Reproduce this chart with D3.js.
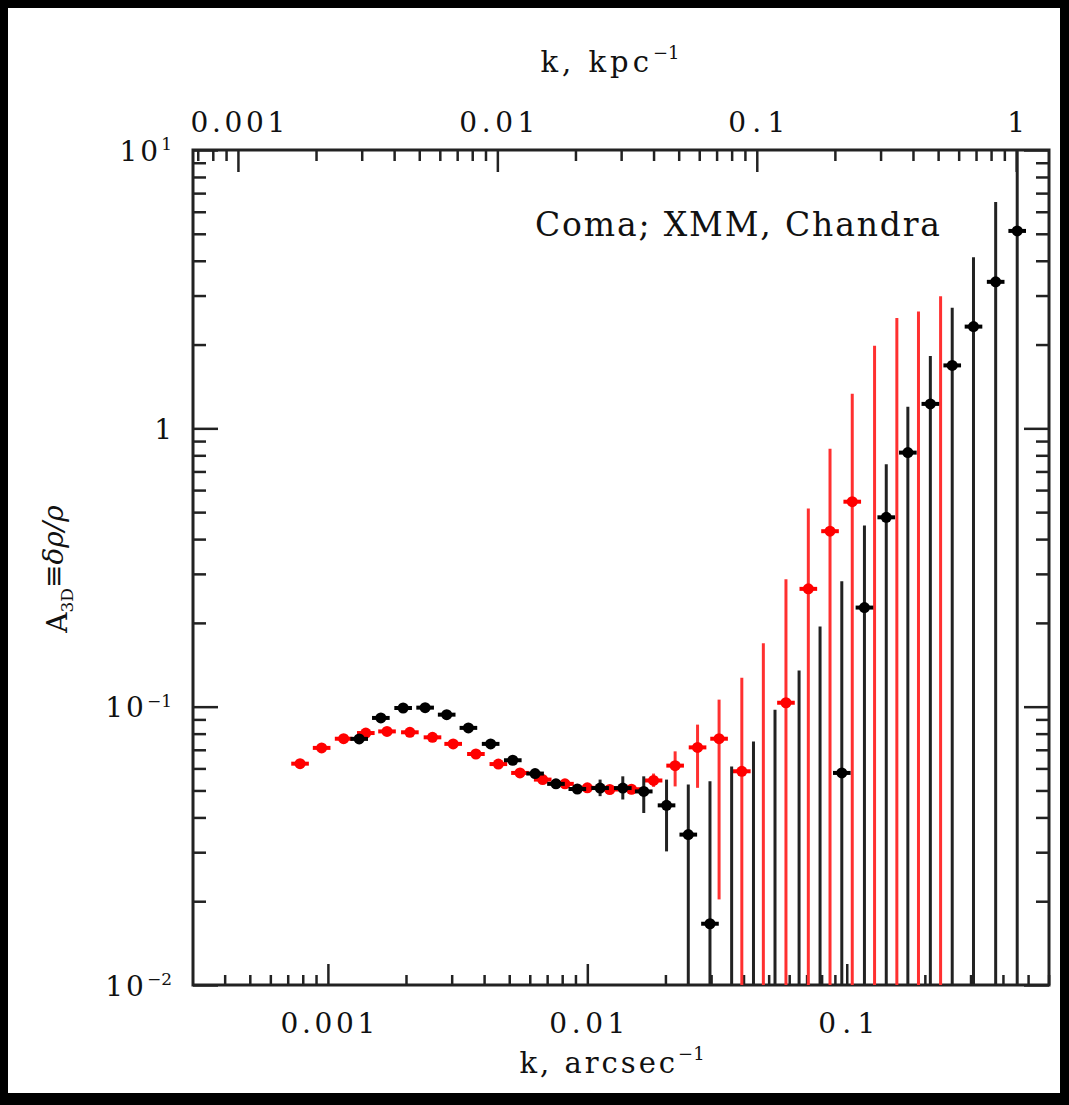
<!DOCTYPE html>
<html>
<head>
<meta charset="utf-8">
<script src="https://cdn.jsdelivr.net/npm/d3@7"></script>
<style>
  html, body { margin: 0; padding: 0; background: #000; }
  svg { display: block; }
  text { font-family: "DejaVu Serif", "Liberation Serif", serif; fill: #111; }
</style>
</head>
<body>
<svg width="1069" height="1105"></svg>
<script>
// black series (k in arcsec^-1, amplitude, lower / upper end of the error bar)
const kBlack = [0.00132, 0.00160, 0.00195, 0.00237, 0.00287, 0.00348, 0.00424, 0.00516, 0.00629, 0.00757,
  0.00915, 0.0112, 0.0137, 0.0165, 0.0202, 0.0245, 0.0297, 0.0360, 0.0437, 0.0529,
  0.0655, 0.0789, 0.0957, 0.117, 0.142, 0.172, 0.210, 0.255, 0.308, 0.375, 0.454]
const aBlack = [0.0766, 0.0911, 0.0989, 0.0992, 0.0936, 0.0839, 0.0735, 0.0642, 0.0575, 0.0528,
  0.0506, 0.0510, 0.0510, 0.0496, 0.0442, 0.0347, 0.0166, 0.005, 0.005, 0.005,
  0.005, 0.005, 0.0578, 0.227, 0.479, 0.818, 1.224, 1.683, 2.32, 3.36, 5.12]
const loBlack = [0.074, 0.088, 0.096, 0.096, 0.091, 0.082, 0.0715, 0.0625, 0.056, 0.0512,
  0.0487, 0.0477, 0.0464, 0.0415, 0.0302, 0.001, 0.001, 0.001, 0.001, 0.001,
  0.001, 0.001, 0.001, 0.001, 0.001, 0.001, 0.001, 0.001, 0.001, 0.001, 0.001]
const hiBlack = [0.079, 0.094, 0.102, 0.102, 0.096, 0.086, 0.0755, 0.066, 0.059, 0.0545,
  0.0525, 0.0547, 0.0562, 0.0562, 0.0547, 0.0525, 0.0539, 0.061, 0.075, 0.0975,
  0.135, 0.194, 0.282, 0.448, 0.743, 1.195, 1.82, 2.71, 4.12, 6.51, 20]

// red series
const kRed = [0.000781, 0.000946, 0.00115, 0.00140, 0.00169, 0.00207, 0.00253, 0.00304, 0.00372, 0.00454,
  0.00550, 0.00673, 0.00820, 0.0100, 0.0122, 0.0148, 0.0180, 0.0218, 0.0266, 0.0322,
  0.0394, 0.0477, 0.0583, 0.0711, 0.0862, 0.105, 0.128, 0.156, 0.189, 0.230]
const aRed = [0.0624, 0.0711, 0.0767, 0.0804, 0.0815, 0.0809, 0.0776, 0.0735, 0.0676, 0.0622,
  0.0578, 0.0547, 0.0528, 0.0511, 0.0504, 0.0505, 0.0543, 0.0614, 0.0714, 0.0767,
  0.0586, 0.005, 0.1033, 0.265, 0.427, 0.545, 0.005, 0.005, 0.005, 0.005]
const loRed = [0.0605, 0.069, 0.0745, 0.078, 0.079, 0.0785, 0.0755, 0.0715, 0.0658, 0.0605,
  0.0562, 0.0532, 0.0513, 0.0496, 0.0488, 0.0485, 0.0515, 0.0517, 0.0511, 0.0203,
  0.001, 0.001, 0.001, 0.001, 0.001, 0.001, 0.001, 0.001, 0.001, 0.001]
const hiRed = [0.0645, 0.0735, 0.079, 0.083, 0.084, 0.0835, 0.080, 0.0755, 0.0695, 0.064,
  0.0595, 0.0563, 0.0544, 0.0527, 0.0521, 0.0527, 0.0575, 0.0691, 0.0862, 0.106,
  0.127, 0.169, 0.287, 0.515, 0.844, 1.33, 1.98, 2.49, 2.63, 2.98]

const kpcPerArcsec = 0.45
const binHalf = Math.pow(10, 0.034)

const svg = d3.select("svg")

svg.append("rect")
  .attr("x", 8).attr("y", 8)
  .attr("width", 1052).attr("height", 1085)
  .attr("fill", "#fff")

const plot = { left: 193, right: 1049, top: 150, bottom: 985 }

const x = d3.scaleLog().domain([3.02e-4, 0.602]).range([plot.left, plot.right])
const xTop = d3.scaleLog()
  .domain(x.domain().map(d => d / kpcPerArcsec))
  .range([plot.left, plot.right])
const y = d3.scaleLog().domain([0.01, 10]).range([plot.bottom, plot.top])

const isMajor = d => Math.abs(Math.log10(d) - Math.round(Math.log10(d))) < 1e-6

svg.append("clipPath").attr("id", "clip")
  .append("rect")
  .attr("x", plot.left).attr("y", plot.top)
  .attr("width", plot.right - plot.left)
  .attr("height", plot.bottom - plot.top)

// axes: ticks point into the frame
function drawAxis(axisFn, scale, transform, attr, sign, majorLen, minorLen) {
  const g = svg.append("g")
    .attr("transform", transform)
    .call(axisFn(scale).tickValues(scale.ticks()).tickFormat("").tickSizeOuter(0))
  g.select(".domain").remove()
  g.selectAll(".tick line")
    .attr(attr, d => sign * (isMajor(d) ? majorLen : minorLen))
    .attr("stroke", "#222")
    .attr("stroke-width", 2.5)
  g.selectAll(".tick text").remove()
  return g
}

drawAxis(d3.axisBottom, x, `translate(0,${plot.bottom})`, "y2", -1, 21, 10)
drawAxis(d3.axisTop, xTop, `translate(0,${plot.top})`, "y2", 1, 22, 11)
drawAxis(d3.axisLeft, y, `translate(${plot.left},0)`, "x2", 1, 25, 13)
drawAxis(d3.axisRight, y, `translate(${plot.right},0)`, "x2", -1, 25, 13)

svg.append("rect")
  .attr("x", plot.left).attr("y", plot.top)
  .attr("width", plot.right - plot.left)
  .attr("height", plot.bottom - plot.top)
  .attr("fill", "none")
  .attr("stroke", "#222")
  .attr("stroke-width", 3)

// tick labels
const fmt = d3.format("~g")
const labelWidth = s => s.length * 19

svg.append("g").selectAll("text")
  .data(x.ticks().filter(isMajor))
  .join("text")
  .attr("x", d => x(d))
  .attr("y", plot.bottom + 48)
  .attr("text-anchor", "middle")
  .attr("font-size", 28)
  .attr("textLength", d => labelWidth(fmt(d)))
  .attr("lengthAdjust", "spacing")
  .text(d => fmt(d))

svg.append("g").selectAll("text")
  .data(xTop.ticks().filter(isMajor))
  .join("text")
  .attr("x", d => xTop(d))
  .attr("y", plot.top - 18)
  .attr("text-anchor", "middle")
  .attr("font-size", 28)
  .attr("textLength", d => fmt(d).length > 1 ? labelWidth(fmt(d)) : null)
  .attr("lengthAdjust", "spacing")
  .text(d => fmt(d))

const yLabels = svg.append("g").selectAll("text")
  .data(y.ticks().filter(isMajor))
  .join("text")
  .attr("x", 172)
  .attr("y", d => y(d))
  .attr("dy", "0.38em")
  .attr("text-anchor", "end")
  .attr("font-size", 28)

yLabels.each(function(d) {
  const e = Math.round(Math.log10(d))
  const t = d3.select(this)
  if (e === 0) {
    t.text("1")
    return
  }
  t.append("tspan").attr("letter-spacing", 3).text("10")
  t.append("tspan")
    .attr("font-size", 17)
    .attr("dy", "-0.6em")
    .text(e < 0 ? "\u2212" + (-e) : e)
})

// axis titles
const topTitle = svg.append("text")
  .attr("x", 610).attr("y", 72)
  .attr("text-anchor", "middle")
  .attr("font-size", 29)
topTitle.append("tspan").attr("letter-spacing", 4).text("k, kpc")
topTitle.append("tspan").attr("font-size", 18).attr("dy", "-0.75em").text("\u22121")

const bottomTitle = svg.append("text")
  .attr("x", 612).attr("y", 1073)
  .attr("text-anchor", "middle")
  .attr("font-size", 29)
bottomTitle.append("tspan").attr("letter-spacing", 3).text("k, arcsec")
bottomTitle.append("tspan").attr("font-size", 18).attr("dy", "-0.75em").text("\u22121")

const yTitle = svg.append("text")
  .attr("transform", "translate(67,569) rotate(-90)")
  .attr("text-anchor", "middle")
  .attr("font-family", "DejaVu Sans")
  .attr("font-size", 28)
yTitle.append("tspan").text("A")
yTitle.append("tspan").attr("font-size", 17).attr("dy", "0.35em").text("3D")
yTitle.append("tspan").attr("dy", "-0.35em").text("\u2261")
yTitle.append("tspan").attr("font-style", "italic").text("\u03b4\u03c1/\u03c1")

svg.append("text")
  .attr("x", 535).attr("y", 236)
  .attr("font-size", 33)
  .attr("textLength", 405)
  .attr("lengthAdjust", "spacing")
  .text("Coma; XMM, Chandra")

// data points with error bars
function drawSeries(ks, vals, los, his, barColor, dotColor) {
  const pts = ks.map((k, i) => ({ k, v: vals[i], lo: los[i], hi: his[i] }))
  const g = svg.append("g").attr("clip-path", "url(#clip)")
  g.selectAll("line.v")
    .data(pts)
    .join("line")
    .attr("class", "v")
    .attr("x1", d => x(d.k)).attr("x2", d => x(d.k))
    .attr("y1", d => y(d.lo)).attr("y2", d => y(d.hi))
    .attr("stroke", barColor)
    .attr("stroke-width", 3)
  g.selectAll("line.h")
    .data(pts)
    .join("line")
    .attr("class", "h")
    .attr("x1", d => x(d.k / binHalf)).attr("x2", d => x(d.k * binHalf))
    .attr("y1", d => y(d.v)).attr("y2", d => y(d.v))
    .attr("stroke", dotColor)
    .attr("stroke-width", 4)
  g.selectAll("circle")
    .data(pts)
    .join("circle")
    .attr("cx", d => x(d.k))
    .attr("cy", d => y(d.v))
    .attr("r", 5.5)
    .attr("fill", dotColor)
}

drawSeries(kRed, aRed, loRed, hiRed, "#ff3030", "#ff0000")
drawSeries(kBlack, aBlack, loBlack, hiBlack, "#222", "#000")
</script>
</body>
</html>
